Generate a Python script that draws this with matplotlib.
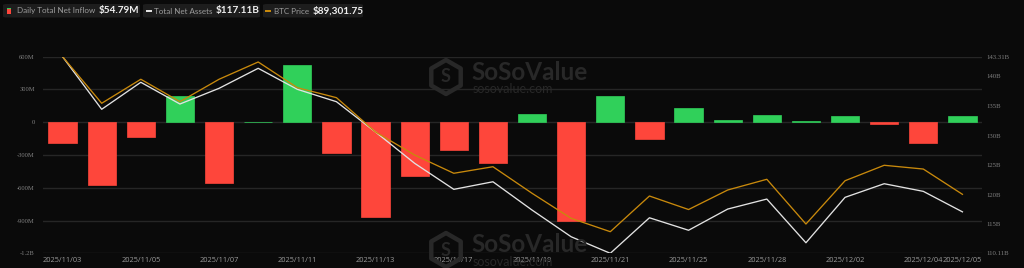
import math
import matplotlib
matplotlib.use("Agg")
import matplotlib.pyplot as plt
from matplotlib.patches import FancyBboxPatch, Polygon, Rectangle

# trading days shown on the chart
dates = ["2025/11/03", "2025/11/04", "2025/11/05", "2025/11/06", "2025/11/07",
         "2025/11/10", "2025/11/11", "2025/11/12", "2025/11/13", "2025/11/14",
         "2025/11/17", "2025/11/18", "2025/11/19", "2025/11/20", "2025/11/21",
         "2025/11/24", "2025/11/25", "2025/11/26", "2025/11/28", "2025/12/01",
         "2025/12/02", "2025/12/03", "2025/12/04", "2025/12/05"]
shown_dates = ["2025/11/03", "2025/11/05", "2025/11/07", "2025/11/11", "2025/11/13",
               "2025/11/17", "2025/11/19", "2025/11/21", "2025/11/25", "2025/11/28",
               "2025/12/02", "2025/12/04", "2025/12/05"]

# daily total net inflow, millions USD
net_inflow = [-186.5, -577.7, -137.0, 239.9, -558.4, 1.2, 523.9, -278.0, -866.7,
              -492.1, -254.5, -372.8, 75.5, -903.1, 238.4, -151.1, 128.6, 21.1,
              70.7, 8.5, 58.5, -14.9, -194.6, 54.79]

# total net assets, billions USD
net_assets = [143.31, 134.43, 138.99, 135.32, 137.97, 141.35, 137.80, 135.71, 130.59,
              125.30, 120.91, 122.19, 117.41, 112.90, 110.11, 116.11, 114.00, 117.58,
              119.27, 111.89, 119.56, 121.86, 120.57, 117.11]

# BTC price, thousands USD
btc_price = [106.50, 100.68, 103.68, 100.88, 103.68, 105.84, 102.63, 101.38, 97.09,
             94.21, 91.93, 92.75, 89.43, 86.30, 84.63, 89.09, 87.40, 89.84,
             91.18, 85.59, 91.00, 92.93, 92.46, 89.30]

left_ticks = [600, 300, 0, -300, -600, -900, -1200]
left_labels = ["600M", "300M", "0", "-300M", "-600M", "-900M", "-1.2B"]
right_ticks = [110.11, 115, 120, 125, 130, 135, 140, 143.31]
right_labels = ["110.11B", "115B", "120B", "125B", "130B", "135B", "140B", "143.31B"]

BG = "#0a0a0a"
RED = "#fe463b"
GREEN = "#30d05a"
ORANGE = "#c8890c"
WHITE = "#e2e2e2"
GRID = "#262626"
MARK = "#282828"
W, H = 1024, 268


def fx(px):
    return px / W


def fy(py):
    return 1 - py / H


fig = plt.figure(figsize=(W / 100, H / 100), dpi=100, facecolor=BG)
ax = fig.add_axes([fx(43), fy(253.3), fx(982 - 43), (253.3 - 56.7) / H])
ax.set_facecolor(BG)

x = list(range(len(dates)))
colors = [GREEN if v >= 0 else RED for v in net_inflow]
ax.bar(x, net_inflow, width=0.72, color=colors, edgecolor=colors, linewidth=0.5, zorder=2)

ax.set_xlim(-0.5, len(dates) - 0.5)
ax.set_ylim(-1200, 600)
ax.set_yticks(left_ticks)
ax.set_yticklabels(left_labels)
ax.grid(axis="y", color=GRID, linewidth=1.0, zorder=0)
ax.set_axisbelow(True)
ax.set_xticks([dates.index(d) for d in shown_dates])
ax.set_xticklabels(shown_dates)
ax.tick_params(axis="x", length=0, pad=3, labelsize=5.3, labelcolor="#9a9a9a")
ax.tick_params(axis="y", length=0, pad=6, labelsize=4.7, labelcolor="#808080")
for lab in ax.get_xticklabels():
    lab.set_family("Open Sans")
for lab in ax.get_yticklabels():
    lab.set_family("Liberation Serif")
for s in ax.spines.values():
    s.set_visible(False)

# right axis: total net assets
ax2 = ax.twinx()
ax2.plot(x, net_assets, color=WHITE, linewidth=0.95, zorder=3)
ax2.set_ylim(110.11, 143.31)
ax2.set_yticks(right_ticks)
ax2.set_yticklabels(right_labels)
ax2.tick_params(axis="y", length=0, pad=3, labelsize=4.9, labelcolor="#808080")
for lab in ax2.get_yticklabels():
    lab.set_family("Liberation Serif")
for s in ax2.spines.values():
    s.set_visible(False)

# hidden axis: BTC price
ax3 = ax.twinx()
ax3.plot(x, btc_price, color=ORANGE, linewidth=0.95, zorder=3)
ax3.set_ylim(81.93, 106.50)
ax3.set_yticks([])
for s in ax3.spines.values():
    s.set_visible(False)

# watermark (logo hexagon + text), upper one and one cut off at the bottom
for cy in (77, 250):
    pts = [(fx(446 + 17 * math.cos(math.radians(90 + 60 * k))),
            fy(cy - 17 * math.sin(math.radians(90 + 60 * k)))) for k in range(6)]
    fig.patches.append(Polygon(pts, closed=True, transform=fig.transFigure,
                               facecolor="none", edgecolor=MARK, linewidth=3.2,
                               joinstyle="round"))
    fig.text(fx(446), fy(cy), "S", fontsize=13, fontweight="bold", family="Lato",
             color=MARK, va="center", ha="center")
    fig.text(fx(471), fy(cy - 5), "SoSoValue", fontsize=17.5, fontweight="bold",
             family="Lato", color=MARK, va="center", ha="left")
    fig.text(fx(473), fy(cy + 12), "sosovalue.com", fontsize=9,
             family="Lato", color=MARK, va="center", ha="left")

# legend chips
chips = [
    (3, 140, "Daily Total Net Inflow", "$54.79M", 17, 99),
    (143, 260, "Total Net Assets", "$117.11B", 154, 216),
    (263, 363, "BTC Price", "$89,301.75", 274, 313),
]
for x0, x1, label, value, lx, vx in chips:
    fig.patches.append(FancyBboxPatch((fx(x0), fy(17.5)), fx(x1 - x0), (17.5 - 4) / H,
                                      boxstyle="round,pad=0,rounding_size=0.004",
                                      transform=fig.transFigure, facecolor="#1d1d1d",
                                      edgecolor="none"))
    fig.text(fx(lx), fy(11), label, fontsize=5.8, family="Lato", color="#9d9d9d",
             va="center", ha="left")
    fig.text(fx(vx), fy(11), value, fontsize=7.2, family="Lato", fontweight="bold",
             color="#f0f0f0", va="center", ha="left")

# chip icons
fig.patches.append(Rectangle((fx(7), fy(14)), fx(4), 6 / H, transform=fig.transFigure,
                             facecolor=RED, edgecolor="none"))
fig.patches.append(Rectangle((fx(7), fy(9)), fx(4), 1 / H, transform=fig.transFigure,
                             facecolor=GREEN, edgecolor="none"))
fig.patches.append(Rectangle((fx(146), fy(12)), fx(6), 2 / H, transform=fig.transFigure,
                             facecolor=WHITE, edgecolor="none"))
fig.patches.append(Rectangle((fx(265), fy(12)), fx(6), 2 / H, transform=fig.transFigure,
                             facecolor=ORANGE, edgecolor="none"))

fig.savefig("out.png", dpi=100, facecolor=BG)
